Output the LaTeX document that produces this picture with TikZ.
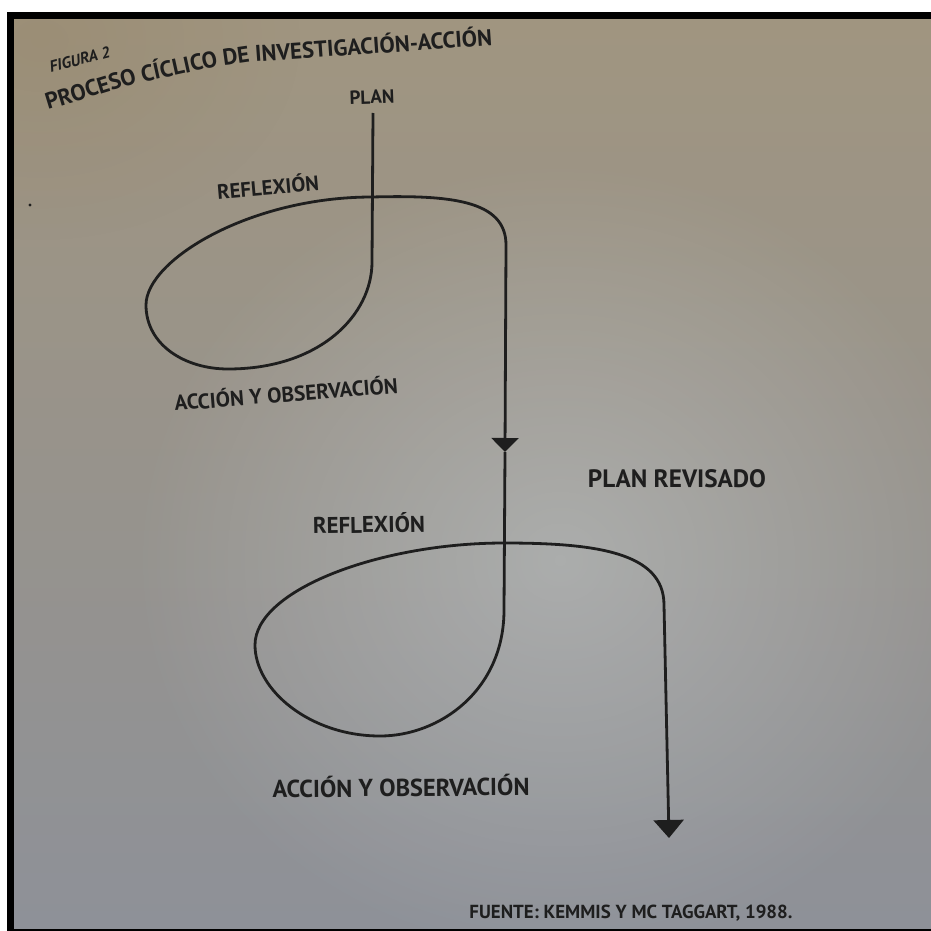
\documentclass[tikz,border=0pt]{standalone}
\usepackage{fontspec}
\setmainfont{PT Sans}
\usepackage{graphicx}
\usetikzlibrary{arrows.meta,fadings}

\definecolor{ink}{HTML}{1E1E1E}
\definecolor{paperTop}{RGB}{160,149,128}
\definecolor{paperMid}{RGB}{168,174,178}
\definecolor{paperLow}{RGB}{142,145,152}
\definecolor{paperGlow}{RGB}{205,213,218}
\definecolor{paperWarm}{RGB}{150,134,106}

% scale a label to a given width, keeping its proportions
\newcommand{\fitto}[2]{\resizebox{#1}{!}{#2}}

\tikzfading[name=softglow, inner color=transparent!0, outer color=transparent!100]

\begin{document}
\begin{tikzpicture}[x=1pt, y=-1pt,
  lbl/.style={inner sep=0pt, text=ink, font=\bfseries},
  titleword/.style={inner sep=0pt, text=ink, anchor=base west,
    font=\fontsize{22.8}{23}\selectfont\bfseries},
  flow/.style={draw=ink, line width=2.8pt, line join=round},
  tipA/.style={-{Triangle[width=27pt,length=14pt]}},
  tipB/.style={-{Triangle[width=30pt,length=18pt]}}]

\useasboundingbox (0,0) rectangle (931,931);
\fill[white] (0,0) rectangle (931,931);

% page: warm at the top, cool grey below, lighter in the middle
\begin{scope}
  \clip (14,19) rectangle (931,929);
  \shade[top color=paperTop, middle color=paperMid, bottom color=paperLow]
    (14,19) rectangle (931,929);
  \fill[paperGlow, opacity=0.4, path fading=softglow] (560,560) ellipse (430 and 400);
  \fill[paperWarm, opacity=0.45, path fading=softglow] (40,40) ellipse (260 and 200);
\end{scope}

% black frame along the top, left and bottom
\fill[black] (7,12) rectangle (931,19);
\fill[black] (7,12) rectangle (14,931);
\fill[black] (7,929) rectangle (931,931);

% speck
\fill[ink] (30,205) circle (1.6);

% title, following the curl of the page
\node[lbl, font=\bfseries\itshape, anchor=base west, rotate=15] (fig) at (51,73) {\fitto{62pt}{FIGURA 2}};
\node[titleword, rotate=17]  (t1) at (48,110) {PROCESO};
\node[titleword, rotate=12.5](t2) at ([xshift=5pt]t1.base east) {CÍCLICO};
\node[titleword, rotate=8]   (t3) at ([xshift=5pt]t2.base east) {DE};
\node[titleword, rotate=4]   (t4) at ([xshift=5pt]t3.base east) {INVESTIGACIÓN-ACCIÓN};

% labels of the spiral
\node[lbl, rotate=2]   (plan)    at (372,97)  {\fitto{45pt}{PLAN}};
\node[lbl, rotate=5]   (refl1)   at (268,186) {\fitto{102pt}{REFLEXIÓN}};
\node[lbl, rotate=4.5] (acc1)    at (286,393) {\fitto{224pt}{ACCIÓN Y OBSERVACIÓN}};
\node[lbl]             (planrev) at (677,479) {\fitto{178pt}{PLAN REVISADO}};
\node[lbl, rotate=1]   (refl2)   at (369,523) {\fitto{112pt}{REFLEXIÓN}};
\node[lbl, rotate=0.5] (acc2)    at (401,786) {\fitto{257pt}{ACCIÓN Y OBSERVACIÓN}};
\node[lbl]             (src)     at (631,913) {\fitto{323pt}{FUENTE: KEMMIS Y MC TAGGART, 1988.}};

% spiral
\coordinate (start) at (373,113);
\coordinate (mid)   at (505,452);
\coordinate (end)   at (669,838);

\draw[flow, tipA] (start) -- (372,262)
  .. controls (372,315) and (320,369) .. (228,369)
  .. controls (185,369) and (146,345) .. (146,305)
  .. controls (146,260) and (250,197) .. (372,197)
  .. controls (450,195) and (506,200) .. (506,245)
  -- (mid);

\draw[flow, tipB] (mid) -- (504,610)
  .. controls (504,690) and (440,736) .. (380,736)
  .. controls (310,736) and (255,690) .. (255,645)
  .. controls (255,590) and (380,543) .. (504,543)
  .. controls (595,543) and (664,552) .. (664,605)
  -- (end);
\end{tikzpicture}
\end{document}
